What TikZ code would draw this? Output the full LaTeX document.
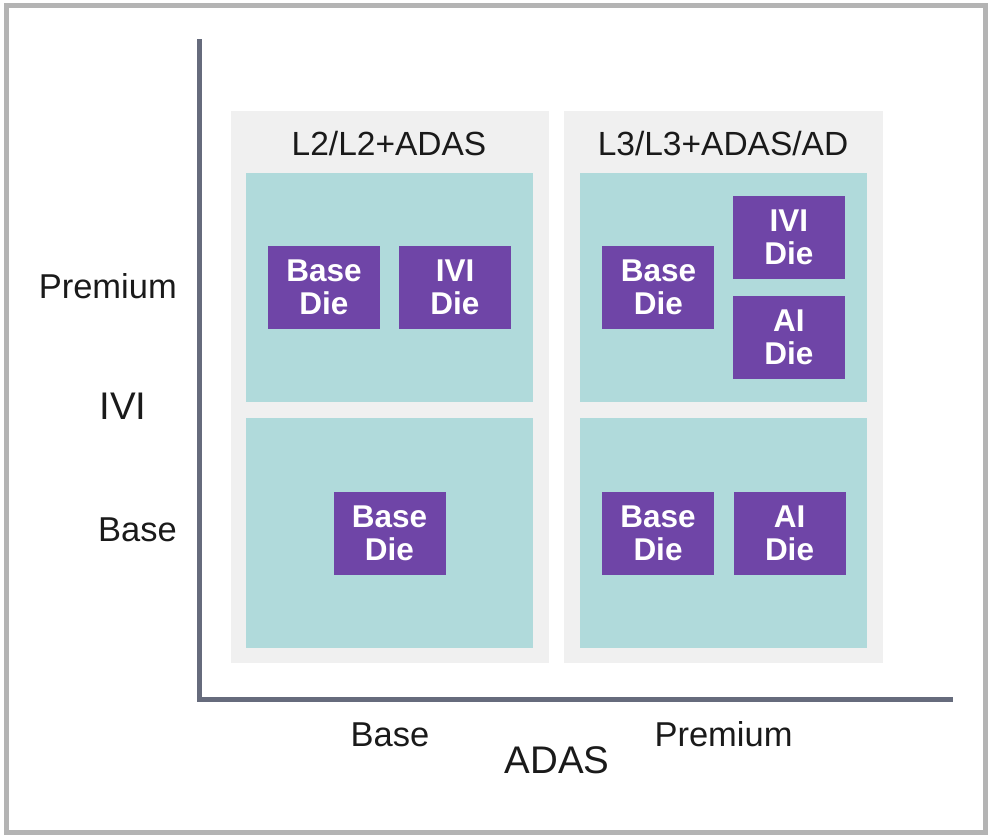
\documentclass[tikz,border=0pt]{standalone}
\usepackage{fontspec}
\setmainfont{Liberation Sans}
\definecolor{framec}{HTML}{B4B4B4}
\definecolor{axisc}{HTML}{666B7C}
\definecolor{panelc}{HTML}{F0F0F0}
\definecolor{tealc}{HTML}{B0DADB}
\definecolor{diec}{HTML}{6F45A7}
\definecolor{txtc}{HTML}{1A1A1A}
\begin{document}
\begin{tikzpicture}[x=1pt,y=-1pt,
  panel/.style={fill=panelc, draw=none, inner sep=0pt},
  zone/.style={fill=tealc, draw=none, inner sep=0pt},
  die/.style={fill=diec, draw=none, inner sep=0pt, minimum width=112pt, minimum height=83pt,
    text=white, align=center, font=\bfseries\fontsize{31.5}{33}\selectfont},
  lbl/.style={text=txtc, inner sep=0pt, font=\fontsize{34.5}{36}\selectfont},
  hdr/.style={text=txtc, inner sep=0pt, font=\fontsize{33.5}{36}\selectfont},
  biglbl/.style={text=txtc, inner sep=0pt, font=\fontsize{38.5}{40}\selectfont},
  axis/.style={draw=axisc, line width=5pt, line join=miter},
]
\useasboundingbox (0,0) rectangle (992,839);
\draw[framec, line width=5pt] (6,5.5) rectangle (985.5,832.5);

% panels
\node[panel, minimum width=318.3pt, minimum height=552pt] (pl) at (389.85,386.7) {};
\node[panel, minimum width=318.7pt, minimum height=552pt] (pr) at (723.35,386.7) {};

% teal zones
\node[zone, minimum width=287.3pt, minimum height=229.6pt] (zlt) at (389.65,287.5) {};
\node[zone, minimum width=287.3pt, minimum height=229.4pt] (zlb) at (389.65,533) {};
\node[zone, minimum width=286.7pt, minimum height=229.6pt] (zrt) at (723.35,287.5) {};
\node[zone, minimum width=286.7pt, minimum height=229.4pt] (zrb) at (723.35,533) {};

% headers
\node[hdr, anchor=base] (hl) at (389,155) {L2/L2+ADAS};
\node[hdr, anchor=base] (hr) at (723,155) {L3/L3+ADAS/AD};

% dies
\node[die] (d1) at (324,287.5) {Base\\Die};
\node[die] (d2) at (455,287.5) {IVI\\Die};
\node[die] (d3) at (658.4,287.7) {Base\\Die};
\node[die] (d4) at (788.9,237.5) {IVI\\Die};
\node[die] (d5) at (788.9,337.8) {AI\\Die};
\node[die] (d6) at (389.5,533) {Base\\Die};
\node[die] (d7) at (658,533) {Base\\Die};
\node[die] (d8) at (789.5,533) {AI\\Die};

% axes
\coordinate (atop) at (199.5,39);
\coordinate (acorner) at (199.5,699);
\coordinate (aend) at (953,699);
\draw[axis] (atop) -- (acorner) -- (aend);

% axis labels
\node[lbl, anchor=base east] (yp) at (177,298) {Premium};
\node[lbl, anchor=base east] (yb) at (177,541) {Base};
\node[biglbl, anchor=base] (yt) at (123,419) {IVI};
\node[lbl, anchor=base] (xb) at (390,746.5) {Base};
\node[lbl, anchor=base] (xp) at (723.5,746.5) {Premium};
\node[biglbl, anchor=base] (xt) at (557,773) {ADAS};
\end{tikzpicture}
\end{document}
